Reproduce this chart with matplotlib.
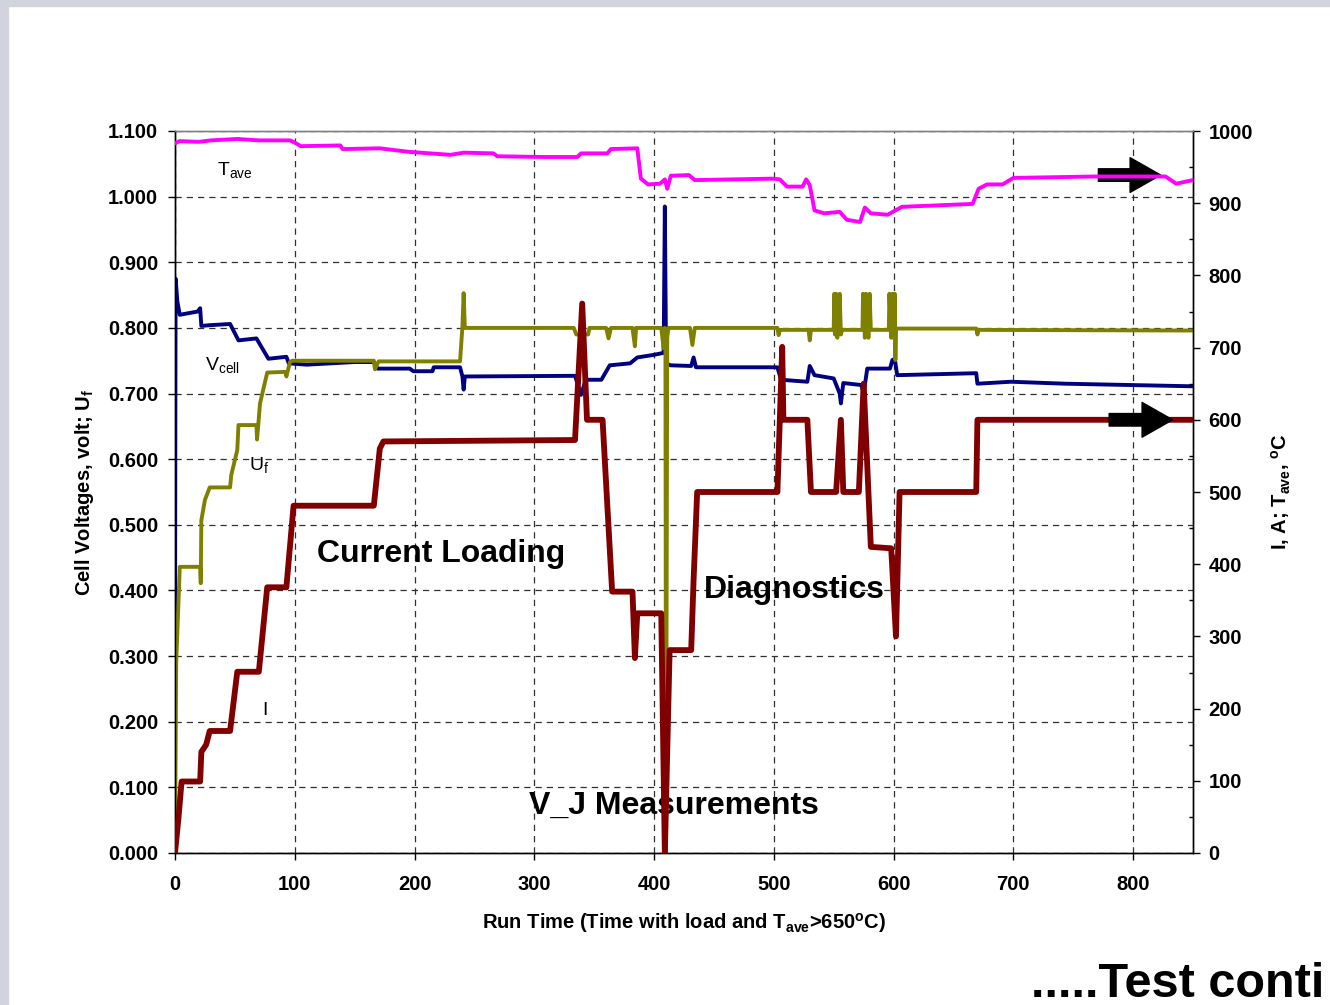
import matplotlib
matplotlib.use("Agg")
import matplotlib.pyplot as plt
from matplotlib.patches import Rectangle
from matplotlib.ticker import MultipleLocator, FormatStrFormatter

plt.rcParams['font.family'] = ['Liberation Sans', 'DejaVu Sans']
plt.rcParams['mathtext.default'] = 'regular'

# ---------------- data ----------------
tave_t = [0, 4, 20, 30, 52, 70, 96, 100, 105, 138, 140, 171, 196, 230, 241, 266, 269, 308, 336, 339,
          361, 364, 386, 389, 395, 405, 409, 411, 414, 429, 434, 499, 505, 511, 524, 527, 530, 534,
          542, 555, 561, 572, 576, 581, 595, 607, 666, 671, 678, 691, 700, 768, 827, 836, 850]
tave_val = [983, 986, 985, 987, 989, 987, 987, 984, 979, 980, 975, 976, 971, 967, 970, 969, 965, 964, 964, 969,
            969, 975, 976, 934, 926, 927, 933, 920, 938, 939, 932, 934, 933, 923, 923, 933, 925, 890,
            886, 888, 877, 874, 894, 886, 884, 895, 899, 920, 926, 926, 935, 937, 937, 927, 932]

vcell_t = [0, 0.5, 2, 4, 19, 21, 22, 28, 46, 53, 68, 78, 93, 95, 110, 150, 166, 169, 196, 199, 215, 216,
           238, 240, 241, 242, 334, 339, 343, 356, 363, 380, 386, 400, 408, 409, 410, 411, 414, 431, 433,
           435, 503, 506, 528, 530, 534, 550, 555, 556, 558, 573, 575, 578, 597, 599, 601, 603, 669, 670,
           698, 743, 851]
vcell_val = [0.29, 0.875, 0.84, 0.820, 0.825, 0.830, 0.803, 0.804, 0.806, 0.781, 0.784, 0.753, 0.756, 0.746,
             0.744, 0.748, 0.748, 0.738, 0.738, 0.734, 0.734, 0.740, 0.740, 0.726, 0.706, 0.726, 0.727, 0.698,
             0.721, 0.721, 0.743, 0.746, 0.755, 0.759, 0.762, 0.985, 0.760, 0.745, 0.743, 0.742, 0.755, 0.740,
             0.740, 0.721, 0.718, 0.742, 0.728, 0.723, 0.700, 0.685, 0.716, 0.713, 0.700, 0.738, 0.738, 0.751,
             0.753, 0.728, 0.731, 0.715, 0.718, 0.715, 0.711]

uf_t = [0, 1, 4, 21, 21.5, 22, 25, 29, 46, 47, 52, 53, 68, 68.5, 71, 77, 92, 93, 96, 98, 166, 167, 170,
        238, 240, 241, 242, 333, 335, 345, 346, 360, 362, 364, 382, 384, 385, 406, 408, 409, 409.5, 410,
        411, 412, 430, 432, 434, 503, 504, 505, 529, 530, 531, 550, 550.5, 551, 552, 553, 555, 556, 557,
        574, 574.5, 576, 577, 579, 580, 581, 596, 596.5, 598, 599, 600, 601, 601.5, 602, 669, 670, 671, 850]
uf_val = [0.0, 0.29, 0.436, 0.436, 0.411, 0.507, 0.538, 0.557, 0.557, 0.576, 0.614, 0.652, 0.652, 0.630,
          0.685, 0.732, 0.733, 0.726, 0.748, 0.750, 0.750, 0.737, 0.749, 0.749, 0.802, 0.853, 0.800, 0.800,
          0.790, 0.790, 0.800, 0.800, 0.784, 0.800, 0.800, 0.772, 0.800, 0.800, 0.769, 0.800, 0.780, 0.0,
          0.785, 0.800, 0.800, 0.774, 0.800, 0.800, 0.789, 0.797, 0.797, 0.781, 0.797, 0.797, 0.852, 0.790,
          0.852, 0.785, 0.852, 0.790, 0.797, 0.797, 0.852, 0.785, 0.852, 0.785, 0.852, 0.797, 0.797, 0.852,
          0.785, 0.852, 0.785, 0.852, 0.751, 0.799, 0.799, 0.790, 0.797, 0.796]

cur_t = [0, 3, 5.5, 21, 22, 26, 29, 46, 52, 70, 77, 93, 99, 166, 171, 174, 334, 340, 344, 357, 365, 382,
         384, 386, 406, 409, 413, 431, 433, 436, 503, 505, 507, 508, 528, 531, 552, 556, 558, 571, 575,
         581, 598, 602, 605, 669, 670, 850]
cur_val = [0, 50, 99, 99, 140, 150, 169, 169, 251, 251, 368, 368, 481, 481, 560, 570, 572, 761, 600, 600,
           362, 362, 270, 332, 332, 0, 281, 281, 378, 500, 500, 600, 701, 600, 600, 500, 500, 600, 500, 500,
           650, 424, 422, 300, 500, 500, 600, 600]

x_ticks = [0, 100, 200, 300, 400, 500, 600, 700, 800]
left_ticks = [0.0, 0.1, 0.2, 0.3, 0.4, 0.5, 0.6, 0.7, 0.8, 0.9, 1.0, 1.1]
right_ticks = [0, 100, 200, 300, 400, 500, 600, 700, 800, 900, 1000]

# ---------------- figure ----------------
W, H = 1330, 1005
fig = plt.figure(figsize=(W / 100, H / 100), dpi=100)
fig.patch.set_facecolor('white')
border = '#D1D4DD'
fig.patches.append(Rectangle((0, 1 - 6 / H), 1, 6 / H, transform=fig.transFigure, color=border, zorder=0))
fig.patches.append(Rectangle((0, 0), 8 / W, 1, transform=fig.transFigure, color=border, zorder=0))

ax = fig.add_axes([175 / W, 1 - 853 / H, (1193 - 175) / W, (853 - 131) / H])
ax2 = ax.twinx()

ax.plot(vcell_t, vcell_val, color='#000080', lw=2.8, solid_joinstyle='round', zorder=3)
ax.plot(uf_t, uf_val, color='#808000', lw=2.8, solid_joinstyle='round', zorder=4)
ax2.plot(cur_t, cur_val, color='#800000', lw=4.2, solid_joinstyle='round', zorder=3)
ax2.plot(tave_t, tave_val, color='#FF00FF', lw=2.8, solid_joinstyle='round', zorder=4)

ax.set_xlim(0, 850)
ax.set_ylim(0, 1.1)
ax2.set_ylim(0, 1000)

ax.set_xticks(x_ticks)
ax.set_yticks(left_ticks)
ax.yaxis.set_major_formatter(FormatStrFormatter('%.3f'))
ax2.set_yticks(right_ticks)
ax2.yaxis.set_minor_locator(MultipleLocator(50))

ax.grid(True, which='major', linestyle=(0, (5, 4)), color='#303030', lw=0.9)
ax.set_axisbelow(True)

for a in (ax, ax2):
    for s in a.spines.values():
        s.set_color('black')
        s.set_linewidth(1.0)
    a.spines['top'].set_color('#808080')

ax.tick_params(axis='y', direction='out', length=5, width=1, pad=7, labelsize=14.5)
ax.tick_params(axis='x', direction='out', length=5, width=1, pad=11, labelsize=14.5)
ax2.tick_params(axis='y', which='major', direction='out', length=5, width=1, pad=6, labelsize=14.5)
ax2.tick_params(axis='y', which='minor', direction='in', length=3, width=1)
for lab in ax.get_xticklabels() + ax.get_yticklabels() + ax2.get_yticklabels():
    lab.set_fontweight('bold')

ax.set_ylabel('Cell Voltages, volt; U$_{f}$', fontsize=14.5, fontweight='bold', labelpad=9)
ax2.set_ylabel('I, A; T$_{ave}$, $^{o}$C', fontsize=14.5, fontweight='bold', labelpad=12)
ax.set_xlabel('Run Time (Time with load and T$_{ave}$>650$^{o}$C)', fontsize=14.5, fontweight='bold', labelpad=12)

# series labels
ax.text(35, 1.033, 'T$_{ave}$', fontsize=14, ha='left', va='baseline')
ax.text(25, 0.736, 'V$_{cell}$', fontsize=14, ha='left', va='baseline')
ax.text(62, 0.583, 'U$_{f}$', fontsize=14, ha='left', va='baseline')
ax.text(73, 0.210, 'I', fontsize=14, ha='left', va='baseline')

# annotations
ax.text(222, 0.455, 'Current Loading', fontsize=23, fontweight='bold', ha='center', va='center')
ax.text(517, 0.401, 'Diagnostics', fontsize=23, fontweight='bold', ha='center', va='center')
ax.text(417, 0.072, 'V_J Measurements', fontsize=23, fontweight='bold', ha='center', va='center')

# arrows
arrow_style = 'simple,head_length=22,head_width=25,tail_width=9'
ax2.annotate('', xy=(823, 939), xytext=(771, 939),
             arrowprops=dict(arrowstyle=arrow_style, color='black', shrinkA=0, shrinkB=0, mutation_scale=1))
ax2.annotate('', xy=(833, 600), xytext=(780, 600),
             arrowprops=dict(arrowstyle=arrow_style, color='black', shrinkA=0, shrinkB=0, mutation_scale=1))

fig.text(1031 / W, 1 - 997 / H, '.....Test conti', fontsize=35, fontweight='bold',
         ha='left', va='baseline')

fig.savefig('out.png', dpi=100)
